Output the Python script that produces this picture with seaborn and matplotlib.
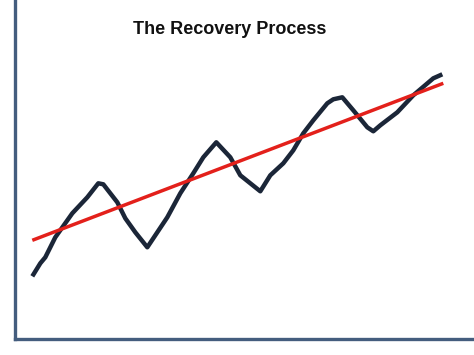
import matplotlib
matplotlib.use("Agg")
import matplotlib.pyplot as plt
import seaborn as sns
import pandas as pd

# Data (x = time, y = level)
recovery_x = [17, 25, 30, 40, 57, 72, 83, 88, 102, 110, 120, 132, 138, 152, 165, 178, 188, 201,
              215, 225, 235, 245, 255, 268, 278, 288, 298, 312, 318, 327, 338, 352, 358, 365, 382,
              398, 418, 427]
recovery_y = [63, 76, 82, 102, 126, 142, 156, 155, 137, 121, 107, 92, 101, 122, 146, 166, 182, 197,
              182, 164, 156, 148, 164, 176, 189, 206, 219, 236, 240, 242, 229, 212, 208, 214, 227,
              244, 261, 265]
trend_x = [17, 428]
trend_y = [99, 256]
title_text = "The Recovery Process"

sns.set_style("white")
plt.rcParams['font.family'] = ['Liberation Sans', 'DejaVu Sans']

fig = plt.figure(figsize=(4.74, 3.55), dpi=100)
ax = fig.add_axes([15.3 / 474, (355 - 339.3) / 355, 1 - 15.3 / 474, 339.3 / 355])

df_rec = pd.DataFrame({"x": recovery_x, "y": recovery_y})
df_trend = pd.DataFrame({"x": trend_x, "y": trend_y})

sns.lineplot(data=df_rec, x="x", y="y", ax=ax, color="#1b2638", linewidth=3.2,
             estimator=None, sort=False, solid_capstyle="butt", solid_joinstyle="round")
sns.lineplot(data=df_trend, x="x", y="y", ax=ax, color="#e3201b", linewidth=2.5,
             estimator=None, sort=False, solid_capstyle="butt")

ax.set_xlim(0, 474 - 15.3)
ax.set_ylim(0, 339.3)
ax.set_xticks([])
ax.set_yticks([])
ax.set_xlabel("")
ax.set_ylabel("")
for s in ["top", "right"]:
    ax.spines[s].set_visible(False)
for s in ["left", "bottom"]:
    ax.spines[s].set_color("#445d7e")
    ax.spines[s].set_linewidth(2.4)

fig.text(230 / 474, 1 - 30 / 355, title_text, ha="center", va="center",
         fontsize=13, fontweight="bold", color="#111111")

fig.savefig("out.png", dpi=100)
